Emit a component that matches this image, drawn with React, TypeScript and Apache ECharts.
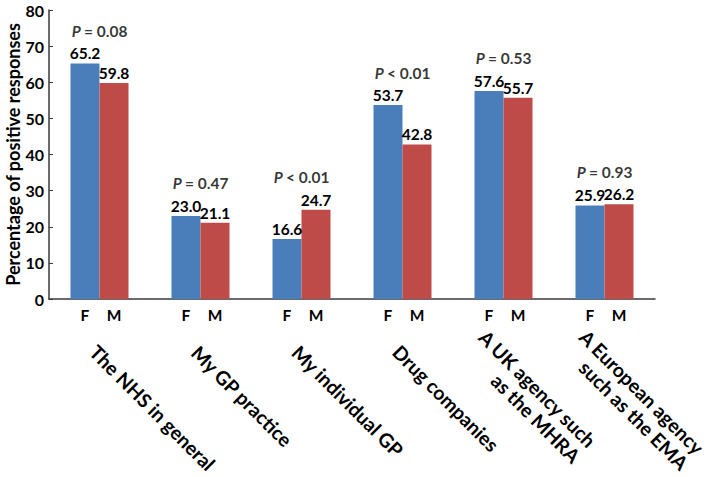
import React, { useEffect, useRef } from "react";
import * as echarts from "echarts";

const categories = [
  "The NHS in general",
  "My GP practice",
  "My individual GP",
  "Drug companies",
  "A UK agency such\nas the MHRA",
  "A European agency\nsuch as the EMA",
];
const femaleValues = [65.2, 23.0, 16.6, 53.7, 57.6, 25.9];
const maleValues = [59.8, 21.1, 24.7, 42.8, 55.7, 26.2];
const pValues = ["= 0.08", "= 0.47", "< 0.01", "< 0.01", "= 0.53", "= 0.93"];
const sexLabels = ["F", "M"];
const yMin = 0;
const yMax = 80;
const yInterval = 10;

const FONT = "Lato";
const BLUE = "#4A7EBB";
const RED = "#BE4B48";
const AXIS = "#3a3a3a";
const CAT_SIZE = 19.5;

export default function App() {
  const ref = useRef<HTMLDivElement>(null);
  useEffect(() => {
    if (!ref.current) return;
    const chart = echarts.init(ref.current, undefined, { renderer: "svg" });
    const groupMax = femaleValues.map((f, i) => Math.max(f, maleValues[i]));
    const catLabel = (v: string) => {
      const lines = v.split("\n");
      if (lines.length === 1) return `{s| }{r|${lines[0]}}`;
      return lines.map((l) => `{r|${l}}`).join("\n");
    };
    const valueLabel = {
      show: true,
      position: "top" as const,
      distance: 2,
      fontFamily: FONT,
      fontWeight: "bold" as const,
      fontSize: 15.5,
      color: "#000",
      formatter: (p: any) => Number(p.value).toFixed(1),
    };
    const letterLabel = (t: string) => ({
      show: true,
      position: "bottom" as const,
      distance: 8,
      fontFamily: FONT,
      fontWeight: "bold" as const,
      fontSize: 15.5,
      color: "#000",
      formatter: t,
    });
    const catText = {
      fontFamily: FONT,
      fontWeight: "bold" as const,
      fontSize: CAT_SIZE,
      color: "#000",
      lineHeight: 22,
    };
    chart.setOption({
      animation: false,
      grid: {
        left: 49,
        right: 54,
        top: 10,
        bottom: 178,
        containLabel: false,
        outerBoundsMode: "none",
      },
      xAxis: [
        {
          type: "category",
          data: categories,
          axisLine: { lineStyle: { color: AXIS, width: 1.5 } },
          axisTick: { inside: true, length: 5, lineStyle: { color: AXIS } },
          axisLabel: {
            rotate: -45,
            margin: 12,
            verticalAlign: "top",
            padding: [20, 0, 0, 0],
            ...catText,
            formatter: catLabel,
            rich: {
              r: { align: "right", ...catText },
              s: { width: 22, ...catText },
            },
          },
        },
        {
          type: "category",
          data: categories,
          show: false,
        },
      ],
      yAxis: {
        type: "value",
        min: yMin,
        max: yMax,
        interval: yInterval,
        name: "Percentage of positive responses",
        nameLocation: "middle",
        nameRotate: 90,
        nameGap: 27,
        nameMoveOverlap: false,
        nameTextStyle: {
          fontFamily: FONT,
          fontWeight: "bold",
          fontSize: 18,
          color: "#000",
        },
        splitLine: { show: false },
        axisLine: { show: true, lineStyle: { color: AXIS, width: 1.5 } },
        axisTick: { show: true, inside: true, length: 4, lineStyle: { color: AXIS } },
        axisLabel: {
          margin: 5,
          fontFamily: FONT,
          fontWeight: "bold",
          fontSize: 16,
          color: "#000",
        },
      },
      series: [
        {
          name: "F",
          type: "bar",
          xAxisIndex: 0,
          data: femaleValues,
          barWidth: 29,
          barGap: "0%",
          itemStyle: { color: BLUE },
          label: valueLabel,
        },
        {
          name: "M",
          type: "bar",
          xAxisIndex: 0,
          data: maleValues,
          barWidth: 29,
          barGap: "0%",
          itemStyle: { color: RED },
          label: valueLabel,
        },
        {
          name: "F-letter",
          type: "bar",
          xAxisIndex: 1,
          data: femaleValues,
          barWidth: 29,
          barGap: "0%",
          itemStyle: { color: "rgba(0,0,0,0)" },
          label: letterLabel(sexLabels[0]),
          silent: true,
        },
        {
          name: "M-letter",
          type: "bar",
          xAxisIndex: 1,
          data: maleValues,
          barWidth: 29,
          barGap: "0%",
          itemStyle: { color: "rgba(0,0,0,0)" },
          label: letterLabel(sexLabels[1]),
          silent: true,
        },
        {
          name: "P",
          type: "scatter",
          xAxisIndex: 0,
          data: groupMax,
          symbolSize: 1,
          itemStyle: { color: "rgba(0,0,0,0)" },
          label: {
            show: true,
            position: "top",
            distance: 24,
            formatter: (p: any) => `{i|P} {b|${pValues[p.dataIndex]}}`,
            rich: {
              i: {
                fontFamily: FONT,
                fontWeight: "bold",
                fontStyle: "italic",
                fontSize: 15.5,
                color: "#000",
              },
              b: {
                fontFamily: FONT,
                fontWeight: "bold",
                fontSize: 15.5,
                color: "#000",
              },
            },
          },
        },
      ],
    });
    return () => chart.dispose();
  }, []);
  return (
    <div
      ref={ref}
      style={{ position: "fixed", left: 0, top: 0, width: 709, height: 477, background: "#fff" }}
    />
  );
}
